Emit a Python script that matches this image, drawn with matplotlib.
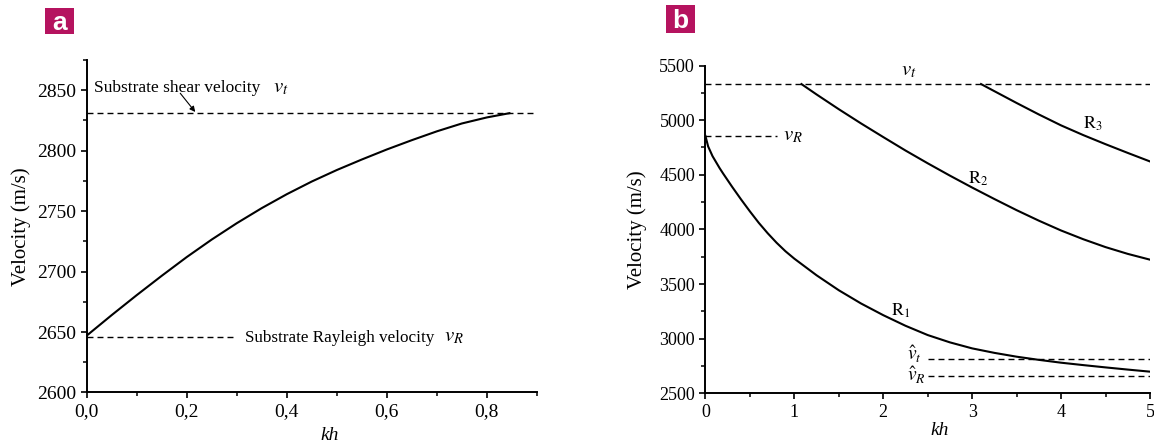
import matplotlib
matplotlib.use("Agg")
import matplotlib.pyplot as plt
from matplotlib.patches import Rectangle
from matplotlib.ticker import MultipleLocator, FuncFormatter

plt.rcParams["font.family"] = ["Liberation Serif", "DejaVu Serif"]
plt.rcParams["mathtext.fontset"] = "stix"

# panel a: single mode, kh 0..0.845
kh_a = [0.0, 0.05, 0.1, 0.15, 0.2, 0.25, 0.3, 0.35, 0.4, 0.45, 0.5, 0.55,
        0.6, 0.65, 0.7, 0.75, 0.8, 0.845]
v_a = [2647, 2664, 2680.5, 2696.5, 2712, 2726.5, 2740, 2752.5, 2764, 2774.5, 2784, 2792.7,
       2801, 2808.7, 2816, 2822.5, 2827.5, 2831]
vt_a = 2831
vR_a = 2646
vR_a_end = 0.294

# panel b: modes R1, R2, R3
kh_r1 = [0.0, 0.03, 0.08, 0.16, 0.2, 0.3, 0.4, 0.5, 0.6, 0.7, 0.8, 0.9, 1.0,
         1.25, 1.5, 1.75, 2.0, 2.25, 2.5, 2.75, 3.0, 3.25, 3.5, 3.75, 4.0,
         4.25, 4.5, 4.75, 5.0]
v_r1 = [4855, 4760, 4670, 4560, 4510, 4390, 4275, 4165, 4060, 3965, 3878, 3800, 3732,
        3580, 3443, 3322, 3215, 3118, 3033, 2966, 2911, 2870, 2835, 2806, 2780,
        2758, 2737, 2717, 2698]
kh_r2 = [1.08, 1.25, 1.5, 1.75, 2.0, 2.25, 2.5, 2.75, 3.0, 3.25, 3.5, 3.75, 4.0,
         4.25, 4.5, 4.75, 5.0]
v_r2 = [5330, 5235, 5100, 4970, 4845, 4722, 4605, 4492, 4383, 4278, 4176, 4080, 3990,
        3910, 3838, 3776, 3723]
kh_r3 = [3.10, 3.25, 3.5, 3.75, 4.0, 4.25, 4.5, 4.75, 5.0]
v_r3 = [5330, 5265, 5157, 5052, 4952, 4863, 4780, 4700, 4622]
vt_b = 5330
vR_b = 4855
vR_b_end = 0.81
vt_hat = 2810
vR_hat = 2658
hat_start = 2.5

xticks_a = [0.0, 0.2, 0.4, 0.6, 0.8]
yticks_a = [2600, 2650, 2700, 2750, 2800, 2850]
xticks_b = [0, 1, 2, 3, 4, 5]
yticks_b = [2500, 3000, 3500, 4000, 4500, 5000, 5500]

badge = "#B5135F"
dash = (4.3, 2.9)

fig = plt.figure(figsize=(11.54, 4.45), dpi=100)
ax1 = fig.add_axes([0.0751, 0.118, 0.3902, 0.7472])
ax2 = fig.add_axes([0.6113, 0.1162, 0.3852, 0.7366])


def style_axes(ax, fs):
    for s in ["top", "right"]:
        ax.spines[s].set_visible(False)
    for s in ["left", "bottom"]:
        ax.spines[s].set_linewidth(1.4)
    ax.tick_params(which="major", direction="out", length=4.5, width=1.2,
                   labelsize=fs, pad=3)
    ax.tick_params(which="minor", direction="out", length=2.8, width=1.1)


# ---- panel a ----
ax1.plot(kh_a, v_a, color="black", lw=1.5)
ax1.plot([0, 0.9], [vt_a, vt_a], color="black", lw=1.0, dashes=dash)
ax1.plot([0, vR_a_end], [vR_a, vR_a], color="black", lw=1.0, dashes=dash)
ax1.set_xlim(0, 0.9)
ax1.set_ylim(2600, 2875)
ax1.set_xticks(xticks_a)
ax1.set_yticks(yticks_a)
ax1.xaxis.set_minor_locator(MultipleLocator(0.1))
ax1.yaxis.set_minor_locator(MultipleLocator(25))
ax1.xaxis.set_major_formatter(FuncFormatter(lambda v, p: f"{v:.1f}".replace(".", ",")))
style_axes(ax1, 14)

ax1.text(0.015, 2848.5, "Substrate shear velocity", fontsize=12.5, va="baseline")
ax1.text(0.372, 2848.5, "$v_t$", fontsize=15, va="baseline")
ax1.annotate("", xy=(0.217, 2832), xytext=(0.187, 2847.5),
             arrowprops=dict(arrowstyle="-|>", color="black", lw=0.8,
                             mutation_scale=8, shrinkA=0, shrinkB=0))
ax1.text(0.317, 2642, "Substrate Rayleigh velocity", fontsize=12.3, va="baseline")
ax1.text(0.715, 2642, "$v_R$", fontsize=15, va="baseline")

ax1.set_ylabel("Velocity (m/s)", fontsize=15)
ax1.set_xlabel("kh", fontsize=14, fontstyle="italic")
ax1.yaxis.set_label_coords(-0.146, 0.5)
ax1.yaxis.label.set_va("center")
ax1.xaxis.set_label_coords(0.54, -0.128)
ax1.xaxis.label.set_va("center")

# ---- panel b ----
ax2.plot(kh_r1, v_r1, color="black", lw=1.5)
ax2.plot(kh_r2, v_r2, color="black", lw=1.5)
ax2.plot(kh_r3, v_r3, color="black", lw=1.5)
ax2.plot([0, 5], [vt_b, vt_b], color="black", lw=1.0, dashes=dash)
ax2.plot([0, vR_b_end], [vR_b, vR_b], color="black", lw=1.0, dashes=dash)
ax2.plot([hat_start, 5], [vt_hat, vt_hat], color="black", lw=1.0, dashes=dash)
ax2.plot([hat_start, 5], [vR_hat, vR_hat], color="black", lw=1.0, dashes=dash)
ax2.set_xlim(0, 5)
ax2.set_ylim(2500, 5500)
ax2.set_xticks(xticks_b)
ax2.set_yticks(yticks_b)
ax2.xaxis.set_minor_locator(MultipleLocator(0.5))
ax2.yaxis.set_minor_locator(MultipleLocator(250))
style_axes(ax2, 13)

ax2.text(2.2, 5413, "$v_t$", fontsize=15, va="baseline")
ax2.text(0.87, 4819, "$v_R$", fontsize=15, va="baseline")
ax2.text(2.09, 3215, r"$\mathrm{R}_1$", fontsize=13, va="baseline")
ax2.text(2.95, 4423, r"$\mathrm{R}_2$", fontsize=13, va="baseline")
ax2.text(4.25, 4926, r"$\mathrm{R}_3$", fontsize=13, va="baseline")
ax2.text(2.27, 2804, r"$\hat{v}_t$", fontsize=14, va="baseline")
ax2.text(2.27, 2606, r"$\hat{v}_R$", fontsize=14, va="baseline")

ax2.set_ylabel("Velocity (m/s)", fontsize=15)
ax2.set_xlabel("kh", fontsize=14, fontstyle="italic")
ax2.yaxis.set_label_coords(-0.154, 0.5)
ax2.yaxis.label.set_va("center")
ax2.xaxis.set_label_coords(0.526, -0.112)
ax2.xaxis.label.set_va("center")

# panel badges
for (bx, by, bw, bh), letter in [((0.039, 0.9236, 0.0251, 0.0584), "a"),
                                 ((0.5771, 0.9258, 0.0251, 0.0629), "b")]:
    fig.patches.append(Rectangle((bx, by), bw, bh, transform=fig.transFigure,
                                 facecolor=badge, edgecolor="none"))
    fig.text(bx + bw / 2, by + bh / 2 - 0.004, letter, color="white", fontsize=19,
             fontweight="bold", family="Liberation Sans", ha="center", va="center")

fig.savefig("out.png", dpi=100)
